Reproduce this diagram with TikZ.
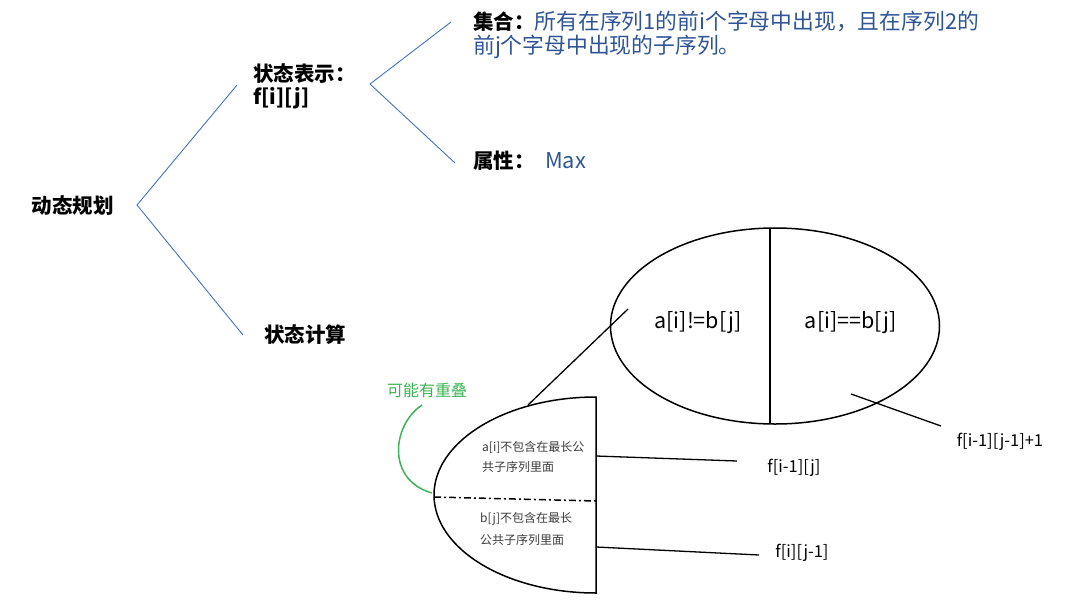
\documentclass[tikz,border=0pt]{standalone}
\usepackage{fontspec}
\setmainfont{Noto Sans CJK SC}
\usetikzlibrary{shapes.geometric}
\definecolor{lineblue}{RGB}{68,114,196}
\definecolor{textblue}{RGB}{47,85,151}
\definecolor{overlapgreen}{RGB}{60,180,85}
\definecolor{smallgrey}{RGB}{60,60,60}
\begin{document}
\begin{tikzpicture}[x=1pt,y=-1pt,
  treeline/.style={draw=lineblue,line width=0.9pt},
  shapeline/.style={draw=black,line width=1.5pt},
  lead/.style={draw=black,line width=1.3pt},
  headtxt/.style={font=\fontsize{20.5}{24}\selectfont\bfseries,inner sep=0pt},
  bluetxt/.style={font=\fontsize{21.8}{25}\selectfont,text=textblue,inner sep=0pt},
  midtxt/.style={font=\fontsize{21.5}{24}\selectfont,inner sep=0pt},
  labtxt/.style={font=\fontsize{16.5}{20}\selectfont,inner sep=0pt},
  smalltxt/.style={font=\fontsize{12}{20}\selectfont,text=smallgrey,inner sep=0pt,anchor=west},
]
\useasboundingbox (0,0) rectangle (1080,614);

% left tree
\node[headtxt] (dp) at (72.5,206) {动态规划};
\node[headtxt,anchor=west] (rep) at (253,74) {状态表示：};
\node[headtxt,anchor=west] (fij) at (253,98) {f[i][j]};
\node[headtxt,anchor=west] (calc) at (264,335) {状态计算};
\coordinate (v1) at (137,205);
\coordinate (v1a) at (237,85);
\coordinate (v1b) at (243,335);
\draw[treeline] (v1a) -- (v1) -- (v1b);

% second bracket
\coordinate (v2) at (370,84);
\coordinate (v2a) at (451,22);
\coordinate (v2b) at (455,163);
\draw[treeline] (v2a) -- (v2) -- (v2b);
\node[bluetxt,anchor=west] (set1) at (473,21) {{\color{black}\fontsize{20.5}{24}\selectfont\bfseries 集合：}所有在序列1的前i个字母中出现，且在序列2的};
\node[bluetxt,anchor=west] (set2) at (473,47) {前j个字母中出现的子序列。};
\node[headtxt,anchor=west] (attr) at (473,161) {属性：};
\node[bluetxt,anchor=west] (max) at (545,161) {Max};

% big ellipse
\node[ellipse,shapeline,minimum width=329pt,minimum height=196pt,inner sep=0pt] (E) at (775,326) {};
\coordinate (Et) at (770,228);
\coordinate (Eb) at (770,424);
\draw[shapeline] (Et) -- (Eb);
\node[midtxt] (ne) at (698,323) {a[i]!=b[j]};
\node[midtxt] (eq) at (851,323) {a[i]==b[j]};
\coordinate (eqa) at (851,394);
\coordinate (eqb) at (941,426);
\draw[lead] (eqa) -- (eqb);
\node[labtxt] (feq) at (1000,442) {f[i-1][j-1]+1};

% half ellipse
\draw[shapeline] (596,397) coordinate (Ht) arc[start angle=90,end angle=270,x radius=162pt,y radius=98pt] coordinate (Hb) -- cycle;
\coordinate (Hl) at (434,497);
\coordinate (Hr) at (596,501);
\draw[line width=1.5pt,dash pattern=on 7pt off 3pt on 2pt off 3pt] (Hl) -- (Hr);
\coordinate (nea) at (628,309);
\coordinate (neb) at (528,405);
\draw[lead] (nea) -- (neb);

\node[smalltxt] (t1a) at (482,447) {a[i]不包含在最长公};
\node[smalltxt] (t1b) at (482,467) {共子序列里面};
\node[smalltxt] (t2a) at (480,519) {b[j]不包含在最长};
\node[smalltxt] (t2b) at (480,540) {公共子序列里面};

\coordinate (h1a) at (596,456);
\coordinate (h1b) at (737,461);
\draw[lead] (h1a) -- (h1b);
\node[labtxt] (f1) at (794,468) {f[i-1][j]};
\coordinate (h2a) at (596,547);
\coordinate (h2b) at (759,555);
\draw[lead] (h2a) -- (h2b);
\node[labtxt] (f2) at (802,553) {f[i][j-1]};

% overlap note
\node[font=\fontsize{16}{20}\selectfont,text=overlapgreen,inner sep=0pt] (ov) at (427,390) {可能有重叠};
\coordinate (ova) at (422,405);
\coordinate (ovb) at (432,493);
\draw[overlapgreen,line width=1.5pt] (ova) .. controls (392,425) and (386,480) .. (ovb);
\end{tikzpicture}
\end{document}
